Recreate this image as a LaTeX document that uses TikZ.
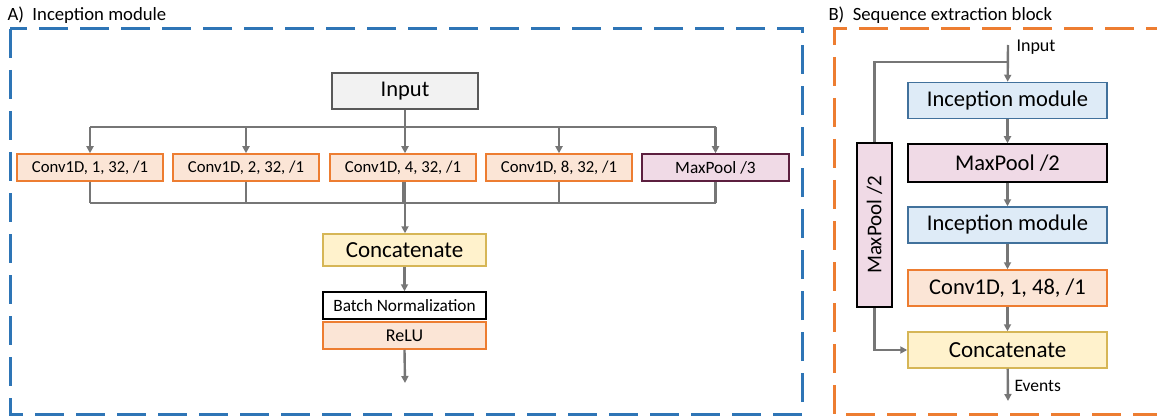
\documentclass[tikz,border=0pt]{standalone}
\usepackage{fontspec}
\setmainfont{Carlito}
\usetikzlibrary{arrows.meta}

\definecolor{frameA}{HTML}{2E75B6}
\definecolor{frameB}{HTML}{ED7D31}
\definecolor{wire}{HTML}{767676}
\definecolor{greyfill}{HTML}{F2F2F2}
\definecolor{greyline}{HTML}{595959}
\definecolor{convfill}{HTML}{FBE5D6}
\definecolor{convline}{HTML}{ED7D31}
\definecolor{poolfill}{HTML}{F0DAE6}
\definecolor{poolline}{HTML}{5C1F3F}
\definecolor{catfill}{HTML}{FFF2CC}
\definecolor{catline}{HTML}{D6B656}
\definecolor{incfill}{HTML}{DEEBF7}
\definecolor{incline}{HTML}{41719C}

\begin{document}
\begin{tikzpicture}[x=1pt,y=-1pt,
	box/.style={draw,line width=1.5pt,inner sep=0pt,anchor=center},
	inbox/.style={box,fill=greyfill,draw=greyline,minimum width=146,minimum height=36,font=\fontsize{22.5}{22.5}\selectfont},
	convbox/.style={box,fill=convfill,draw=convline,minimum width=146,minimum height=27,font=\fontsize{16.7}{16.7}\selectfont},
	poolbox/.style={box,fill=poolfill,draw=poolline,minimum width=147,minimum height=27,font=\fontsize{17.3}{17.3}\selectfont},
	catbox/.style={box,fill=catfill,draw=catline,minimum width=163,minimum height=32,font=\fontsize{23}{23}\selectfont},
	bigbox/.style={box,minimum width=199,minimum height=36,font=\fontsize{22.5}{22.5}\selectfont},
	line/.style={draw=wire,line width=2.4pt},
	arrow/.style={line,-{Triangle[length=7pt,width=7pt]}},
	frame/.style={line width=3pt,dash pattern=on 29pt off 12pt}]

		\useasboundingbox (0,0) rectangle (1157,417);

		% A) inception module
		\draw[frame,draw=frameA] (10,29) rectangle (802,414);
		\node[anchor=west,font=\fontsize{18.7}{18.7}\selectfont] (titleA) at (4,15) {A)\ \ Inception module};

		\node[inbox] (inp) at (405,91) {Input};
		\node[convbox] (c1) at (90,167.5) {Conv1D, 1, 32, /1};
		\node[convbox] (c2) at (246,167.5) {Conv1D, 2, 32, /1};
		\node[convbox] (c3) at (403,167.5) {Conv1D, 4, 32, /1};
		\node[convbox] (c4) at (559,167.5) {Conv1D, 8, 32, /1};
		\node[poolbox] (mp) at (715.5,167.5) {MaxPool /3};
		\node[catbox] (cat) at (404.5,250) {Concatenate};
		\node[box,fill=white,draw=black,minimum width=163,minimum height=27,font=\fontsize{17.3}{17.3}\selectfont] (bn) at (404.5,305.5) {Batch Normalization};
		\node[convbox,minimum width=163,font=\fontsize{18}{18}\selectfont] (relu) at (404.5,335.5) {ReLU};
		\coordinate (split) at (405,127);
		\coordinate (merge) at (405,203);
		\coordinate (outA) at (405,383);

		\draw[line] (c1.north |- split) -- (mp.north |- split);
		\draw[arrow] (inp.south) -- (inp.south |- c3.north);
		\foreach \b in {c1,c2,c4,mp}
			\draw[arrow] (\b.north |- split) -- (\b.north);

		\foreach \b in {c1,c2,c3,c4,mp}
			\draw[line] (\b.south) -- (\b.south |- merge);
		\draw[line] (c1.south |- merge) -- (mp.south |- merge);
		\draw[arrow] (inp.south |- c3.south) -- (inp.south |- cat.north);

		\draw[arrow] (cat.south) -- (bn.north);
		\draw[arrow] (relu.south) -- (outA);

		% B) sequence extraction block
		\draw[frame,draw=frameB] (1175,29) -- (834,29) -- (834,414) -- (1175,414);
		\node[anchor=west,font=\fontsize{18.7}{18.7}\selectfont] (titleB) at (825,15) {B)\ \ Sequence extraction block};

		\node[bigbox,fill=incfill,draw=incline] (im1) at (1007.5,100.5) {Inception module};
		\node[bigbox,fill=poolfill,draw=black,minimum height=38] (mp2) at (1007.5,163) {MaxPool /2};
		\node[bigbox,fill=incfill,draw=incline] (im2) at (1007.5,225) {Inception module};
		\node[bigbox,fill=convfill,draw=convline] (cv) at (1007.5,288) {Conv1D, 1, 48, /1};
		\node[bigbox,fill=catfill,draw=catline,font=\fontsize{23}{23}\selectfont] (cat2) at (1007.5,350) {Concatenate};
		\node[box,fill=poolfill,draw=black,rotate=90,minimum width=164,minimum height=35,font=\fontsize{21}{21}\selectfont] (mpv) at (874.5,225) {MaxPool /2};

		\coordinate (inB) at (1008,45);
		\coordinate (splitB) at (1008,62);
		\coordinate (outB) at (1008,401);
		\node[anchor=west,font=\fontsize{18}{18}\selectfont] (inlabel) at (1013,47) {Input};
		\node[anchor=west,font=\fontsize{17.5}{17.5}\selectfont] (outlabel) at (1011,386) {Events};

		\draw[arrow] (inB) -- (im1);
		\draw[line] (splitB) -| (mpv);
		\draw[arrow] (im1) -- (mp2);
		\draw[arrow] (mp2) -- (im2);
		\draw[arrow] (im2) -- (cv);
		\draw[arrow] (cv) -- (cat2);
		\draw[arrow] (mpv) |- (cat2);
		\draw[arrow] (cat2) -- (outB);

	\end{tikzpicture}
\end{document}
